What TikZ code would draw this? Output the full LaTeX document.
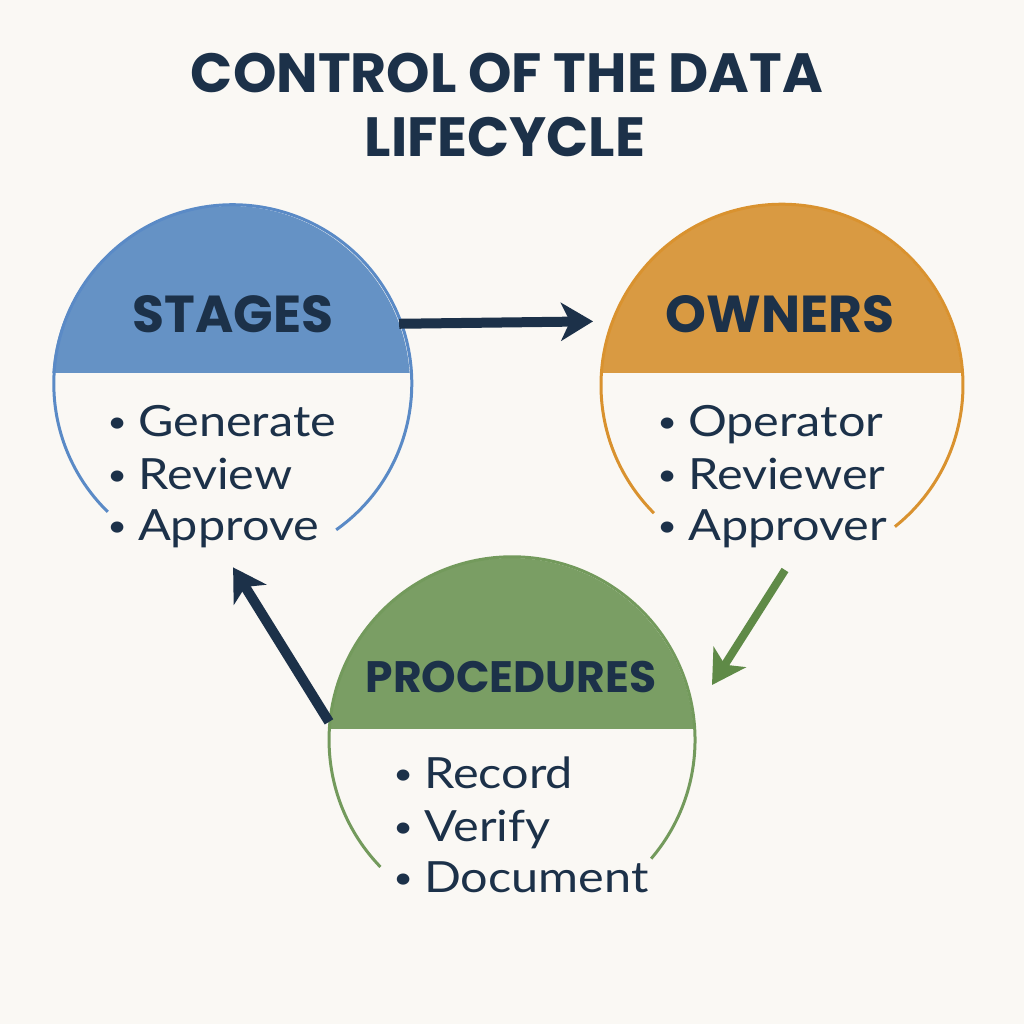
\documentclass[tikz,border=0pt]{standalone}
\usepackage{fontspec}
\setmainfont{Lato}
\newfontfamily\bodyfont{Lato}[FakeStretch=1.13]
\newfontfamily\headfont{Poppins}
\usetikzlibrary{arrows.meta}
\definecolor{bgc}{HTML}{FAF8F4}
\definecolor{navy}{HTML}{1C3149}
\definecolor{bluefill}{HTML}{6592C5}
\definecolor{bluestroke}{HTML}{5A8AC6}
\definecolor{orangefill}{HTML}{D99A42}
\definecolor{orangestroke}{HTML}{D9922F}
\definecolor{greenfill}{HTML}{7A9E64}
\definecolor{greenstroke}{HTML}{739A5C}
\definecolor{greenarrow}{HTML}{5F8A47}
\newcommand{\bul}{\makebox[34pt][c]{\raisebox{4pt}{\fontsize{30}{36}\selectfont •}}\hspace{4pt}}
\tikzset{
  ring/.style={circle, minimum size=#1, inner sep=0pt, outer sep=0pt, draw=none},
  titletext/.style={anchor=base, text=navy, inner sep=0pt, font=\headfont\bfseries\fontsize{55.3}{60}\selectfont},
  headtext/.style={anchor=base, text=navy, inner sep=0pt, font=\headfont\bfseries\fontsize{52}{60}\selectfont},
  itemtext/.style={anchor=base west, text=navy, inner sep=0pt, font=\bodyfont\fontsize{43}{50}\selectfont},
  outline/.style={line width=3pt},
  navyarrow/.style={draw=navy, line width=10pt, -{Stealth[length=32pt, width=38pt, inset=9pt]}},
  greenarr/.style={draw=greenarrow, line width=8pt, -{Stealth[length=33pt, width=38pt, inset=9pt]}}
}
\begin{document}
\begin{tikzpicture}[x=1pt,y=1pt]
\useasboundingbox (0,0) rectangle (1024,1024);
\fill[bgc] (0,0) rectangle (1024,1024);

% title
\node[titletext] (title1) at (507,931) {CONTROL OF THE DATA};
\node[titletext] (title2) at (505,867) {LIFECYCLE};

% circles as nodes
\node[ring=358pt] (stages) at (231,639) {};
\node[ring=362pt] (owners) at (781,638) {};
\node[ring=366pt] (procedures) at (511,283) {};

% fills (upper segment)
\begin{scope}
  \clip (30,651) rectangle (430,840);
  \fill[bluefill] (stages.center) circle[radius=179];
\end{scope}
\begin{scope}
  \clip (580,651) rectangle (980,840);
  \fill[orangefill] (owners.center) circle[radius=181];
\end{scope}
\begin{scope}
  \clip (310,295) rectangle (710,480);
  \fill[greenfill] (procedures.center) circle[radius=183];
\end{scope}

% outlines
\draw[bluestroke, outline] (stages.-54.7) arc[start angle=-54.7, end angle=225.7, radius=179];
\draw[orangestroke, outline] (owners.-51.4) arc[start angle=-51.4, end angle=225, radius=181];
\draw[greenstroke, outline] (procedures.-40.5) arc[start angle=-40.5, end angle=224, radius=183];

% headers
\node[headtext] (h1) at (233,691) {STAGES};
\node[headtext] (h2) at (780,691) {OWNERS};
\node[headtext, font=\headfont\bfseries\fontsize{44}{50}\selectfont] (h3) at (511,331) {PROCEDURES};

% items
\node[itemtext] (s1) at (100,587) {\bul Generate};
\node[itemtext] (s2) at (100,534) {\bul Review};
\node[itemtext] (s3) at (100,483) {\bul Approve};
\node[itemtext] (o1) at (650,587) {\bul Operator};
\node[itemtext] (o2) at (650,534) {\bul Reviewer};
\node[itemtext] (o3) at (650,483) {\bul Approver};
\node[itemtext] (p1) at (386,235) {\bul Record};
\node[itemtext] (p2) at (386,182) {\bul Verify};
\node[itemtext] (p3) at (386,131) {\bul Document};

% arrows
\coordinate (g1) at (785,454);
\coordinate (g2) at (712,339);
\draw[navyarrow, shorten >=19pt] (stages.20.6) -- (owners.159.3);
\draw[greenarr] (g1) -- (g2);
\draw[navyarrow, shorten >=4pt] (procedures.174) -- (stages.south);
\end{tikzpicture}
\end{document}
